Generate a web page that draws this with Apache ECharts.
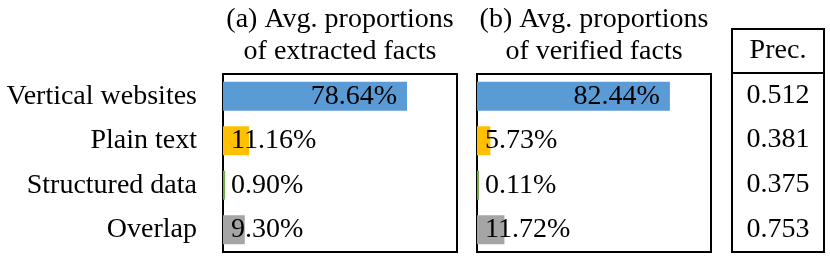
<!DOCTYPE html>
<html>
<head>
<meta charset="utf-8">
<script src="https://cdn.jsdelivr.net/npm/echarts@6/dist/echarts.min.js"></script>
<style>html,body{margin:0;padding:0;background:#fff;}#c{width:830px;height:258px;}</style>
</head>
<body>
<div id="c"></div>
<script>
var categories = ['Vertical websites', 'Plain text', 'Structured data', 'Overlap'];
var extracted = [78.64, 11.16, 0.90, 9.30];
var verified = [82.44, 5.73, 0.11, 11.72];
var precision = [0.512, 0.381, 0.375, 0.753];
var colors = ['#5B9BD5', '#FFC000', '#70AD47', '#A5A5A5'];
var titleA = '(a) Avg. proportions\nof extracted facts';
var titleB = '(b) Avg. proportions\nof verified facts';
var precHeader = 'Prec.';

var FONT = '"Liberation Serif", "Times New Roman", serif';
var FS = 28;

function barSeries(values, idx) {
  return {
    type: 'bar', xAxisIndex: idx, yAxisIndex: idx, barWidth: 29, barMinHeight: 2, silent: true, z: 5,
    data: values.map(function (v, i) {
      var big = v > 50;
      return {
        value: v,
        itemStyle: { color: colors[i] },
        label: {
          show: true,
          position: big ? 'insideRight' : 'insideLeft',
          distance: big ? 10 : 8,
          formatter: v.toFixed(2) + '%',
          color: '#000', fontFamily: FONT, fontSize: FS
        }
      };
    })
  };
}

function catAxis(idx, showLabel) {
  return {
    type: 'category', gridIndex: idx, data: categories, inverse: true,
    axisLine: { show: false }, axisTick: { show: false }, splitLine: { show: false },
    axisLabel: { show: showLabel, margin: 26, color: '#000', fontFamily: FONT, fontSize: FS }
  };
}
function valAxis(idx, max) {
  return {
    type: 'value', gridIndex: idx, min: 0, max: max,
    axisLine: { show: false }, axisTick: { show: false }, splitLine: { show: false },
    axisLabel: { show: false }
  };
}

var chart = echarts.init(document.getElementById('c'), null, { renderer: 'canvas' });
chart.setOption({
  animation: false,
  backgroundColor: '#fff',
  grid: [
    { left: 223, top: 74, width: 234, height: 178, show: true, borderColor: '#000', borderWidth: 2, backgroundColor: 'transparent' },
    { left: 477, top: 74, width: 234, height: 178, show: true, borderColor: '#000', borderWidth: 2, backgroundColor: 'transparent' },
    { left: 732, top: 29, width: 92, height: 44, show: true, borderColor: '#000', borderWidth: 2, backgroundColor: 'transparent' },
    { left: 732, top: 73, width: 92, height: 179, show: true, borderColor: '#000', borderWidth: 2, backgroundColor: 'transparent' }
  ],
  xAxis: [valAxis(0, 100), valAxis(1, 100), valAxis(2, 1), valAxis(3, 1)],
  yAxis: [catAxis(0, true), catAxis(1, false),
    { type: 'category', gridIndex: 2, data: [precHeader], show: false },
    { type: 'category', gridIndex: 3, data: categories, inverse: true, show: false }],
  series: [
    barSeries(extracted, 0),
    barSeries(verified, 1),
    {
      type: 'scatter', xAxisIndex: 2, yAxisIndex: 2, symbolSize: 0, silent: true,
      itemStyle: { opacity: 1 },
      data: [[0.5, 0]],
      label: { show: true, position: 'inside', formatter: precHeader, color: '#000', opacity: 1, fontFamily: FONT, fontSize: FS }
    },
    {
      type: 'scatter', xAxisIndex: 3, yAxisIndex: 3, symbolSize: 0, silent: true,
      itemStyle: { opacity: 1 },
      data: precision.map(function (p, i) { return [0.5, i]; }),
      label: {
        show: true, position: 'inside', color: '#000', opacity: 1, fontFamily: FONT, fontSize: FS,
        formatter: function (p) { return precision[p.dataIndex].toFixed(3); }
      }
    }
  ],
  graphic: [
    { type: 'text', x: 340, y: 4, silent: true,
      style: { text: titleA, fill: '#000', font: FS + 'px ' + FONT, fontFamily: FONT, fontSize: FS, align: 'center', textAlign: 'center', verticalAlign: 'top', lineHeight: 31.5 } },
    { type: 'text', x: 594, y: 4, silent: true,
      style: { text: titleB, fill: '#000', font: FS + 'px ' + FONT, fontFamily: FONT, fontSize: FS, align: 'center', textAlign: 'center', verticalAlign: 'top', lineHeight: 31.5 } }
  ]
});
</script>
</body>
</html>
